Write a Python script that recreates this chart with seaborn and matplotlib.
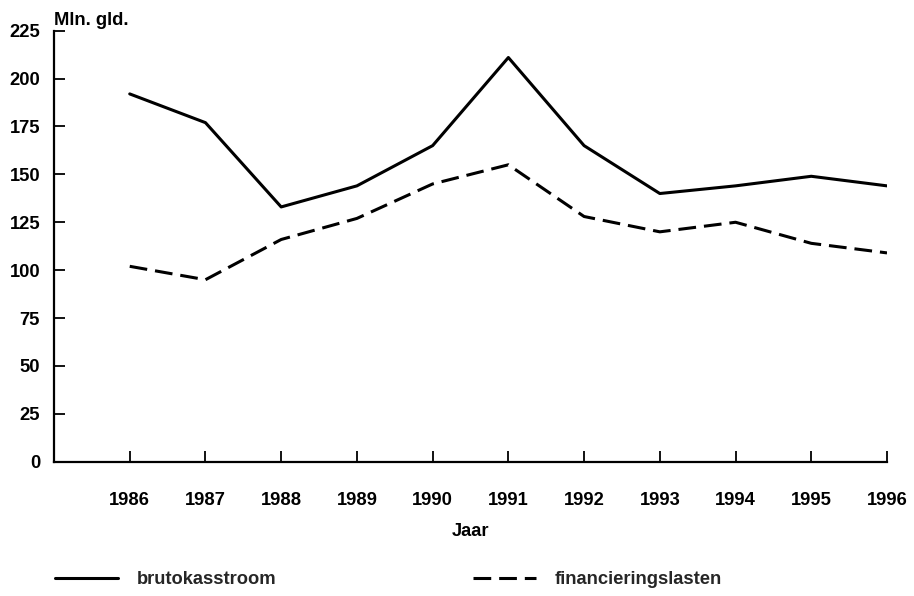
import matplotlib
matplotlib.use("Agg")
import matplotlib.pyplot as plt
import seaborn as sns
import pandas as pd
from matplotlib.lines import Line2D

years = [1986, 1987, 1988, 1989, 1990, 1991, 1992, 1993, 1994, 1995, 1996]
brutokasstroom = [192, 177, 133, 144, 165, 211, 165, 140, 144, 149, 144]
financieringslasten = [102, 95, 116, 127, 145, 155, 128, 120, 125, 114, 109]
series_names = ["brutokasstroom", "financieringslasten"]
y_ticks = [0, 25, 50, 75, 100, 125, 150, 175, 200, 225]
y_label = "Mln. gld."
x_label = "Jaar"

df = pd.DataFrame({
    "Jaar": years * 2,
    "waarde": brutokasstroom + financieringslasten,
    "reeks": [series_names[0]] * len(years) + [series_names[1]] * len(years),
})

sns.set_theme(style="white")
plt.rcParams["font.family"] = ["Liberation Sans", "DejaVu Sans"]
plt.rcParams["font.weight"] = "bold"

FS = 13.2

fig = plt.figure(figsize=(9.14, 5.96), dpi=100)
ax = fig.add_axes([54 / 914, 1 - 461.7 / 596, (887 - 54) / 914, (461.7 - 30.7) / 596])

sns.lineplot(data=df, x="Jaar", y="waarde", hue="reeks", style="reeks",
             palette={series_names[0]: "black", series_names[1]: "black"},
             dashes={series_names[0]: "", series_names[1]: (5.8, 2.6)},
             linewidth=2.2, ax=ax, legend=False)

ax.set_xlim(1985, 1996)
ax.set_ylim(0, 225)
ax.set_xticks(years)
ax.set_xticklabels([str(y) for y in years])
ax.set_yticks(y_ticks)
ax.tick_params(axis="both", bottom=True, left=True, direction="in", length=8,
               width=1.3, color="black", labelsize=FS, labelcolor="black")
ax.tick_params(axis="x", pad=22)
ax.tick_params(axis="y", pad=10)
for lbl in ax.get_xticklabels() + ax.get_yticklabels():
    lbl.set_fontweight("bold")

sns.despine(ax=ax)
for s in ["left", "bottom"]:
    ax.spines[s].set_color("black")
    ax.spines[s].set_linewidth(1.6)

ax.set_xlabel(x_label, fontsize=FS, fontweight="bold", color="black")
ax.xaxis.set_label_coords(0.5, (461.7 - 531) / 431)
ax.xaxis.label.set_va("center")
ax.set_ylabel("")
ax.text(0.0, 1.005, y_label, transform=ax.transAxes, ha="left", va="bottom",
        fontsize=FS, fontweight="bold", color="black")

handles = [
    Line2D([], [], color="black", lw=2.2, linestyle="-"),
    Line2D([], [], color="black", lw=2.2, dashes=(5.8, 2.6)),
]
leg = fig.legend(handles, series_names, loc="center left",
                 bbox_to_anchor=(55 / 914, 1 - 580 / 596), ncol=2, frameon=False,
                 borderpad=0, borderaxespad=0, handlelength=3.44, handletextpad=1.04,
                 columnspacing=10.7, prop={"size": FS, "weight": "bold"})

fig.savefig("out.png", dpi=100)
